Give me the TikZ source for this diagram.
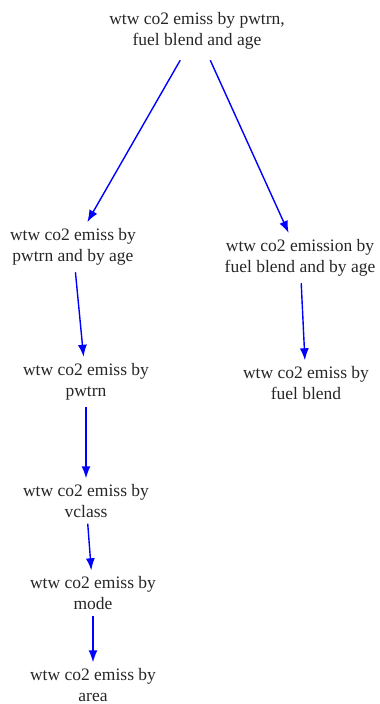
\documentclass[tikz,border=0pt]{standalone}
\usepackage{fontspec}
\setmainfont{Liberation Serif}
\usetikzlibrary{arrows.meta,shapes.geometric}

\begin{document}
\begin{tikzpicture}[x=1bp, y=-1bp, >={Latex[length=12bp,width=9bp]}]

\tikzset{
  measure/.style={
    ellipse, draw=none, align=center, inner sep=-1bp,
    font=\fontsize{17.5bp}{21.5bp}\selectfont, text=black!85
  },
  arrow/.style={->, blue, line width=1.4bp}
}

\useasboundingbox (0,0) rectangle (379,704);

% ==========================
% Top node and the two splits
% ==========================
\node[measure, inner sep=2bp] (all) at (197,31) {wtw co2 emiss by pwtrn,\\fuel blend and age};
\node[measure] (pwtrnage) at (73,247) {wtw co2 emiss by\\pwtrn and by age};
\node[measure] (fuelage) at (300,258) {wtw co2 emission by\\fuel blend and by age};

% ==========================
% Left branch (powertrain chain)
% ==========================
\node[measure] (pwtrn) at (86,382) {wtw co2 emiss by\\pwtrn};
\node[measure] (vclass) at (86,501) {wtw co2 emiss by\\vclass};
\node[measure] (mode) at (93,593) {wtw co2 emiss by\\mode};
\node[measure] (area) at (93,685) {wtw co2 emiss by\\area};

% ==========================
% Right branch
% ==========================
\node[measure] (fuel) at (306,383) {wtw co2 emiss by\\fuel blend};

\draw[arrow] (all) -- (pwtrnage);
\draw[arrow] (all) -- (fuelage);
\draw[arrow] (pwtrnage) -- (pwtrn);
\draw[arrow] (fuelage) -- (fuel);
\draw[arrow] (pwtrn) -- (vclass);
\draw[arrow] (vclass) -- (mode);
\draw[arrow] (mode) -- (area);

\end{tikzpicture}
\end{document}
